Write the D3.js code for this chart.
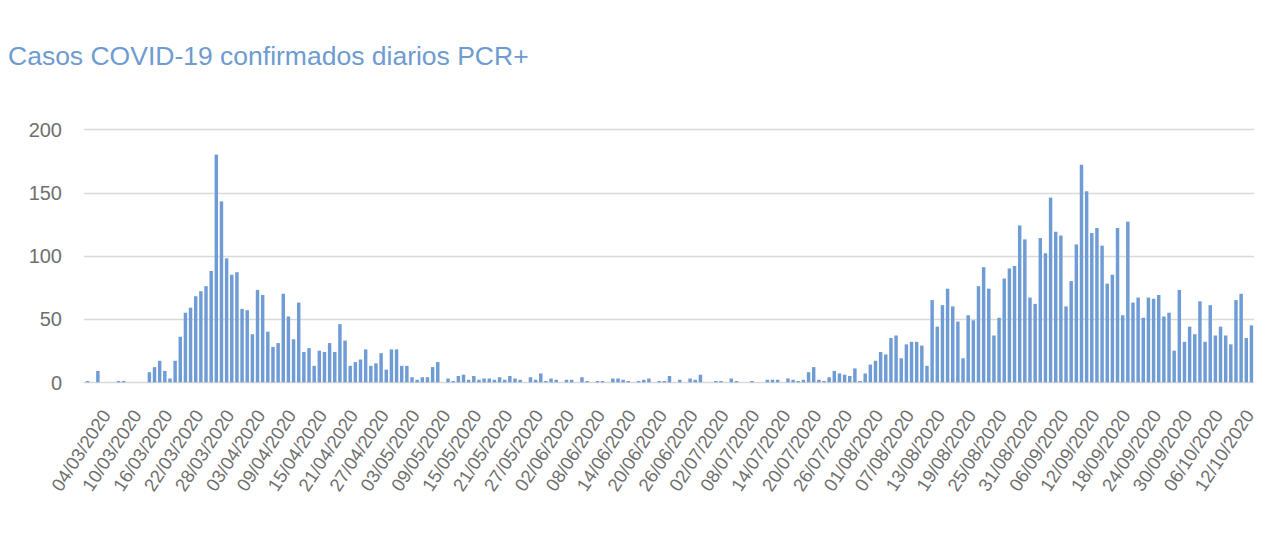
<!DOCTYPE html>
<html>
<head>
<meta charset="utf-8">
<script src="https://cdn.jsdelivr.net/npm/d3@7"></script>
<style>
  html, body { margin: 0; padding: 0; background: #fff; }
  svg { display: block; font-family: "Helvetica Neue", Helvetica, "Liberation Sans", Arial, sans-serif; }
</style>
</head>
<body>
<svg id="chart" width="1280" height="545"></svg>
<script>
// daily PCR+ cases, one value per day from firstDay to lastDay
const firstDay = "2020-03-04";
const lastDay = "2020-10-16";
const cases = [
  1, 0, 9, 0, 0, 0, 1, 1, 0, 0,
  0, 0, 8, 12, 17, 9, 3, 17, 36, 55,
  59, 68, 72, 76, 88, 180, 143, 98, 85, 87,
  58, 57, 38, 73, 69, 40, 28, 31, 70, 52,
  34, 63, 24, 27, 13, 25, 24, 31, 24, 46,
  33, 13, 16, 18, 26, 13, 15, 23, 10, 26,
  26, 13, 13, 4, 2, 4, 4, 12, 16, 0,
  3, 1, 5, 6, 2, 5, 2, 3, 3, 2,
  4, 2, 5, 3, 2, 0, 4, 2, 7, 1,
  3, 2, 0, 2, 2, 0, 4, 1, 0, 1,
  1, 0, 3, 3, 2, 1, 0, 1, 2, 3,
  0, 1, 1, 5, 0, 2, 0, 3, 2, 6,
  0, 0, 1, 1, 0, 3, 1, 0, 0, 1,
  0, 0, 2, 2, 2, 0, 3, 2, 1, 2,
  8, 12, 2, 1, 4, 9, 7, 6, 5, 11,
  1, 7, 14, 17, 24, 22, 35, 37, 19, 30,
  32, 32, 29, 13, 65, 44, 61, 74, 60, 48,
  19, 53, 49, 76, 91, 74, 37, 51, 82, 90,
  92, 124, 113, 67, 62, 114, 102, 146, 119, 116,
  60, 80, 109, 172, 151, 118, 122, 108, 78, 85,
  122, 53, 127, 63, 67, 51, 67, 66, 69, 52,
  55, 25, 73, 32, 44, 38, 64, 32, 61, 37,
  44, 37, 30, 65, 70, 35, 45
];
const xTickLabels = [
  "04/03/2020", "10/03/2020", "16/03/2020", "22/03/2020", "28/03/2020",
  "03/04/2020", "09/04/2020", "15/04/2020", "21/04/2020", "27/04/2020",
  "03/05/2020", "09/05/2020", "15/05/2020", "21/05/2020", "27/05/2020",
  "02/06/2020", "08/06/2020", "14/06/2020", "20/06/2020", "26/06/2020",
  "02/07/2020", "08/07/2020", "14/07/2020", "20/07/2020", "26/07/2020",
  "01/08/2020", "07/08/2020", "13/08/2020", "19/08/2020", "25/08/2020",
  "31/08/2020", "06/09/2020", "12/09/2020", "18/09/2020", "24/09/2020",
  "30/09/2020", "06/10/2020", "12/10/2020"
];
const yTicks = [0, 50, 100, 150, 200];
const title = "Casos COVID-19 confirmados diarios PCR+";

const W = 1280, H = 545;
const m = { top: 129.3, right: 26, bottom: 162.7, left: 85 };
const fmt = d3.timeFormat("%d/%m/%Y");
const parse = d3.timeParse("%Y-%m-%d");
const days = d3.timeDay.range(parse(firstDay), d3.timeDay.offset(parse(lastDay), 1)).map(fmt);
const data = days.map((d, i) => ({ day: d, value: cases[i] }));

const svg = d3.select("#chart");
svg.append("rect").attr("width", W).attr("height", H).attr("fill", "#fff");

// Title
svg.append("text")
  .attr("x", 8).attr("y", 65)
  .style("fill", "#6e9bd0").style("font-size", "26.5px")
  .text(title);

const x = d3.scaleBand().domain(days)
  .range([m.left, W - m.right])
  .paddingInner(0.33).paddingOuter(0.165);
const y = d3.scaleLinear().domain([0, 200]).range([H - m.bottom, m.top]);

// Grid
svg.append("g").selectAll("line").data(yTicks).join("line")
  .attr("x1", m.left - 1).attr("x2", W - m.right)
  .attr("y1", d => Math.round(y(d)) + 0.5).attr("y2", d => Math.round(y(d)) + 0.5)
  .attr("stroke", "#d9d9d9").attr("stroke-width", 1.3);

// Y labels
svg.append("g").selectAll("text").data(yTicks).join("text")
  .attr("x", 62).attr("y", d => y(d)).attr("dy", "0.36em")
  .attr("text-anchor", "end")
  .style("fill", "#6f6f6f").style("font-size", "20px")
  .text(d => d);

// Bars
svg.append("g").selectAll("rect").data(data).join("rect")
  .attr("x", d => x(d.day)).attr("width", x.bandwidth())
  .attr("y", d => y(d.value)).attr("height", d => y(0) - y(d.value))
  .attr("fill", "#6f9cd4");

// X labels, rotated
const angle = -57;
svg.append("g").selectAll("text").data(xTickLabels).join("text")
  .attr("transform", d => `translate(${x(d) + x.bandwidth() / 2 + 24},415) rotate(${angle})`)
  .attr("text-anchor", "end")
  .style("fill", "#6f6f6f").style("font-size", "18.5px")
  .text(d => d);
</script>
</body>
</html>
